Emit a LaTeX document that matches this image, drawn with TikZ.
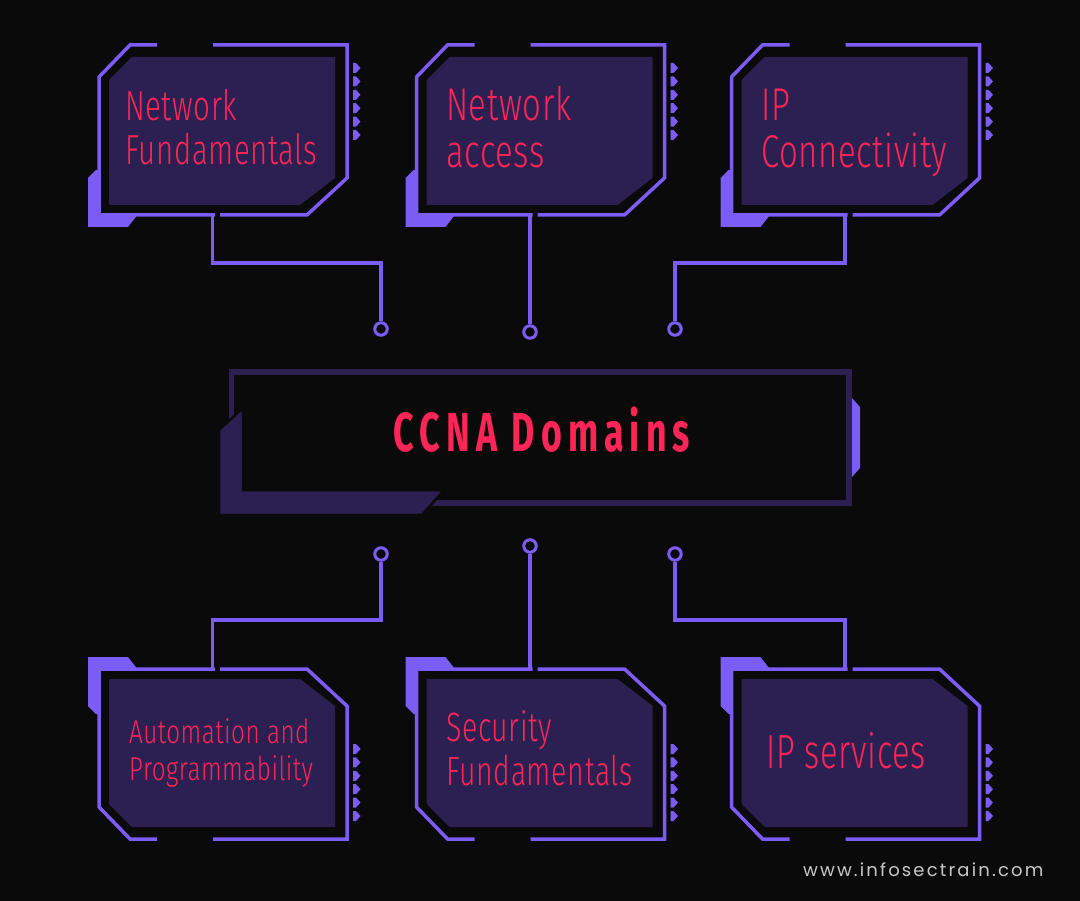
\documentclass[tikz,border=0pt]{standalone}
\usepackage{fontspec}
\setmainfont{Fira Sans}
\newfontfamily\cardfont[FakeStretch=0.70,LetterSpace=1.5]{Fira Sans Light}
\newfontfamily\titlefont[FakeStretch=0.65,LetterSpace=11]{Fira Sans}
\newfontfamily\webfont[LetterSpace=12]{Poppins}
\definecolor{bg}{HTML}{0A0A0A}
\definecolor{vio}{HTML}{7B5CF5}
\definecolor{ink}{HTML}{2C1F52}
\definecolor{hot}{HTML}{FF2657}
\definecolor{web}{HTML}{C8C8C8}
\tikzset{
  rim/.style={draw=vio, line width=3.5},
  conn/.style={draw=vio, line width=3.5},
  dot/.style={circle, draw=vio, fill=bg, line width=3, minimum size=12.5, inner sep=0},
  lbl/.style={anchor=base west, inner sep=0, text=hot},
}
\newcommand\cardshape{%
  \fill[vio] (88,178) -- (96,170) -- (149,170) -- (149,200) -- (128,227) -- (88,227) -- cycle;
  \fill[bg] (99,77) -- (130,45) -- (347,45) -- (347,178) -- (307,215) -- (99,215) -- cycle;
  \draw[rim] (157,45) -- (130,45) -- (99,77) -- (99,215) -- (215,215);
  \draw[rim] (220,215) -- (307,215) -- (347,178) -- (347,45) -- (213,45);
  \fill[ink] (109,80) -- (132,57) -- (335,57) -- (335,178) -- (300,205) -- (109,205) -- cycle;
  \foreach \c in {68,81.4,94.8,108.2,121.6,135}{
    \fill[vio] (353,\c-5) -- (356,\c-5) -- (360.5,\c) -- (356,\c+5) -- (353,\c+5) -- cycle;}
}
\begin{document}
\begin{tikzpicture}[x=1pt,y=-1pt]
\useasboundingbox (0,0) rectangle (1080,901);
\fill[bg] (0,0) rectangle (1080,901);

% top cards
\begin{scope}\cardshape\end{scope}
\begin{scope}[xshift=317.5]\cardshape\end{scope}
\begin{scope}[xshift=632.5]\cardshape\end{scope}
% bottom cards (mirrored)
\begin{scope}[shift={(0,884)},yscale=-1]\cardshape\end{scope}
\begin{scope}[shift={(317.5,884)},yscale=-1]\cardshape\end{scope}
\begin{scope}[shift={(632.5,884)},yscale=-1]\cardshape\end{scope}

% card labels
\node[lbl, font=\cardfont\fontsize{42}{44}\selectfont] (n1a) at (125,121) {Network};
\node[lbl, font=\cardfont\fontsize{42}{44}\selectfont] (n1b) at (125,165) {Fundamentals};
\node[lbl, font=\cardfont\fontsize{46}{48}\selectfont\addfontfeature{FakeStretch=0.715}] (n2a) at (446,121) {Network};
\node[lbl, font=\cardfont\fontsize{46}{48}\selectfont\addfontfeature{FakeStretch=0.715}] (n2b) at (446,168) {access};
\node[lbl, font=\cardfont\fontsize{46}{48}\selectfont\addfontfeature{FakeStretch=0.715}] (n3a) at (761,121) {IP};
\node[lbl, font=\cardfont\fontsize{46}{48}\selectfont\addfontfeature{FakeStretch=0.715}] (n3b) at (761,168) {Connectivity};
\node[lbl, font=\cardfont\fontsize{33}{36}\selectfont\addfontfeature{FakeStretch=0.735}] (n4a) at (129,743) {Automation and};
\node[lbl, font=\cardfont\fontsize{33}{36}\selectfont\addfontfeature{FakeStretch=0.735}] (n4b) at (129,780) {Programmability};
\node[lbl, font=\cardfont\fontsize{41}{44}\selectfont\addfontfeature{FakeStretch=0.695}] (n5a) at (446,741) {Security};
\node[lbl, font=\cardfont\fontsize{41}{44}\selectfont\addfontfeature{FakeStretch=0.695}] (n5b) at (446,785) {Fundamentals};
\node[lbl, font=\cardfont\fontsize{48}{50}\selectfont\addfontfeature{FakeStretch=0.68}] (n6a) at (766,768) {IP services};

% central box
\draw[draw=ink, line width=5.5] (231.5,372) rectangle (849,503);
\filldraw[fill=ink, draw=bg, line width=2.5] (219,430) -- (243,408) -- (243,490) -- (444,490) -- (422,515) -- (219,515) -- cycle;
\fill[vio] (852,398) -- (860,407) -- (860,468) -- (852,477) -- cycle;
\node[anchor=base, inner sep=0, text=hot, font=\titlefont\bfseries\fontsize{55}{58}\selectfont] (ccna) at (542,452) {CCNA Domains};

% connector anchors
\coordinate (t1) at (212.5,215);
\coordinate (t2) at (530,215);
\coordinate (t3) at (845,215);
\coordinate (b4) at (212.5,669);
\coordinate (b5) at (530,669);
\coordinate (b6) at (845,669);
\node[dot] (d1) at (381,329) {};
\node[dot] (d2) at (530,332) {};
\node[dot] (d3) at (675,329) {};
\node[dot] (d4) at (381,554) {};
\node[dot] (d5) at (530,546) {};
\node[dot] (d6) at (675,554) {};
\draw[conn] (t1) -- ++(0,48) -| (d1.north);
\draw[conn] (t2) -- (d2.north);
\draw[conn] (t3) -- ++(0,48) -| (d3.north);
\draw[conn] (b4) -- ++(0,-49) -| (d4.south);
\draw[conn] (b5) -- (d5.south);
\draw[conn] (b6) -- ++(0,-49) -| (d6.south);

\node[anchor=base west, inner sep=0, text=web, font=\webfont\fontsize{18}{20}\selectfont] (web) at (803,876) {www.infosectrain.com};
\end{tikzpicture}
\end{document}
